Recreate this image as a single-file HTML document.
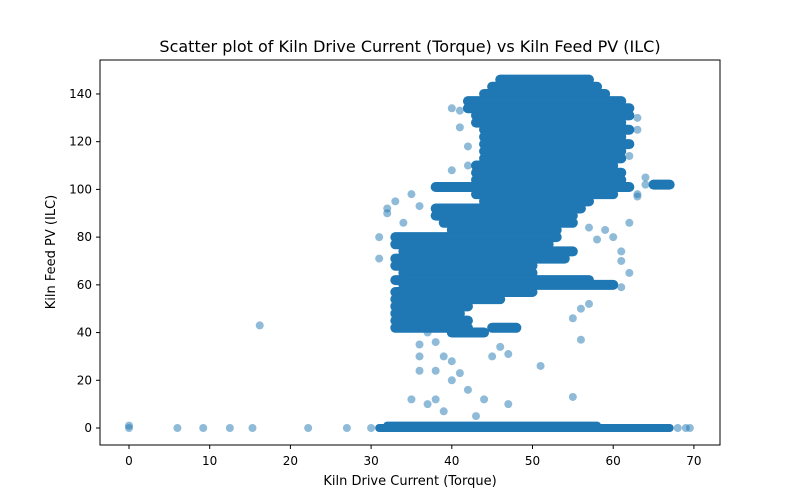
<!DOCTYPE html>
<html><head><meta charset="utf-8"><style>
body{margin:0;background:#fff;font-family:"DejaVu Sans","Liberation Sans",sans-serif}
svg text{font-family:"DejaVu Sans","Liberation Sans",sans-serif;fill:#000}
</style></head><body>
<svg id="chart" width="800" height="500" xmlns="http://www.w3.org/2000/svg">
<rect width="800" height="500" fill="#fff"/>
<text x="410" y="52" font-size="16" text-anchor="middle">Scatter plot of Kiln Drive Current (Torque) vs Kiln Feed PV (ILC)</text>
<text x="410" y="485" font-size="13" text-anchor="middle">Kiln Drive Current (Torque)</text>
<text transform="translate(55,252) rotate(-90)" font-size="13" text-anchor="middle">Kiln Feed PV (ILC)</text>
<g id="marks"></g>
<rect x="100" y="60" width="620" height="385" fill="none" stroke="#000" stroke-width="1"/>
<g id="axes"></g>
</svg>
<script>
const xTicks=[0,10,20,30,40,50,60,70];
const yTicks=[0,20,40,60,80,100,120,140];
// dense bands: y value and x extent
const bandY=[146,143,140,137,134,131,128,125,122,119,116,113,110,107,104,101,98,95,92,89,86,83,80,77,74,71,68,65,62,60,57,54,51,48,45,42,42,40,0,1,102];
const bandX0=[46,45,44,42,42,43,43,44,44,44,44,44,43,43,43,38,43,44,38,38,39,40,33,33,34,33,33,34,33,34,33,33,33,33,33,33,45,40,31,32,65];
const bandX1=[57,58,59,61,62,62,61,62,61,62,61,61,60,61,61,62,60,57,56,55,55,53,53,52,55,54,50,50,57,60,50,46,42,41,42,42,48,44,67,58,67];
// individual points
const ptX=[0,0,6,9.2,12.5,15.3,22.2,27,30,16.2,68,69,69.5,40,40,41,42,38,39,37,43,47,44,51,55,56,36,38,35,45,46,47,55,56,57,32,31,31,32,33,40,41,41,42,42,40,62,63,64,62,63,63,57,58,61,61,60,61,35,36,34,37,36,38,36,39,66.5,64,63,59,60,62];
const ptY=[0,1,0,0,0,0,0,0,0,43,0,0,0,28,20,23,16,12,7,10,5,10,12,26,13,37,24,24,12,30,34,31,46,50,52,90,80,71,92,95,134,133,126,118,110,108,86,98,102,114,125,130,84,79,70,74,60,59,98,93,86,40,35,36,30,30,102,105,97,83,80,65];
const X=v=>129+v*8.07, Y=v=>428-v*2.386;
const NS="http://www.w3.org/2000/svg";
const marks=document.getElementById('marks'), axes=document.getElementById('axes');
const C="#1f77b4";
bandY.forEach((y,i)=>{
  const l=document.createElementNS(NS,'line');
  
  
  l.setAttribute('x1',X(bandX0[i]));l.setAttribute('x2',X(bandX1[i]));
  l.setAttribute('y1',Y(y));l.setAttribute('y2',Y(y));
  l.setAttribute('stroke',C);l.setAttribute('stroke-width',y>1?10:8);
  l.setAttribute('stroke-linecap','round');
  marks.appendChild(l);
});
ptX.forEach((x,i)=>{
  const c=document.createElementNS(NS,'circle');
  
  
  c.setAttribute('cx',X(x));c.setAttribute('cy',Y(ptY[i]));c.setAttribute('r',4);
  c.setAttribute('fill',C);c.setAttribute('fill-opacity',0.5);
  marks.appendChild(c);
});
xTicks.forEach(t=>{
  const l=document.createElementNS(NS,'line');
  
  
  l.setAttribute('x1',X(t));l.setAttribute('x2',X(t));l.setAttribute('y1',445);l.setAttribute('y2',449);l.setAttribute('stroke','#000');
  axes.appendChild(l);
  const s=document.createElementNS(NS,'text');
  
  
  s.setAttribute('x',X(t));s.setAttribute('y',465);s.setAttribute('font-size',12);s.setAttribute('text-anchor','middle');
  s.textContent=t;axes.appendChild(s);
});
yTicks.forEach(t=>{
  const l=document.createElementNS(NS,'line');
  
  
  l.setAttribute('x1',96);l.setAttribute('x2',100);l.setAttribute('y1',Y(t));l.setAttribute('y2',Y(t));l.setAttribute('stroke','#000');
  axes.appendChild(l);
  const s=document.createElementNS(NS,'text');
  
  
  s.setAttribute('x',92);s.setAttribute('y',Y(t)+4);s.setAttribute('font-size',12);s.setAttribute('text-anchor','end');
  s.textContent=t;axes.appendChild(s);
});
</script>
</body></html>
